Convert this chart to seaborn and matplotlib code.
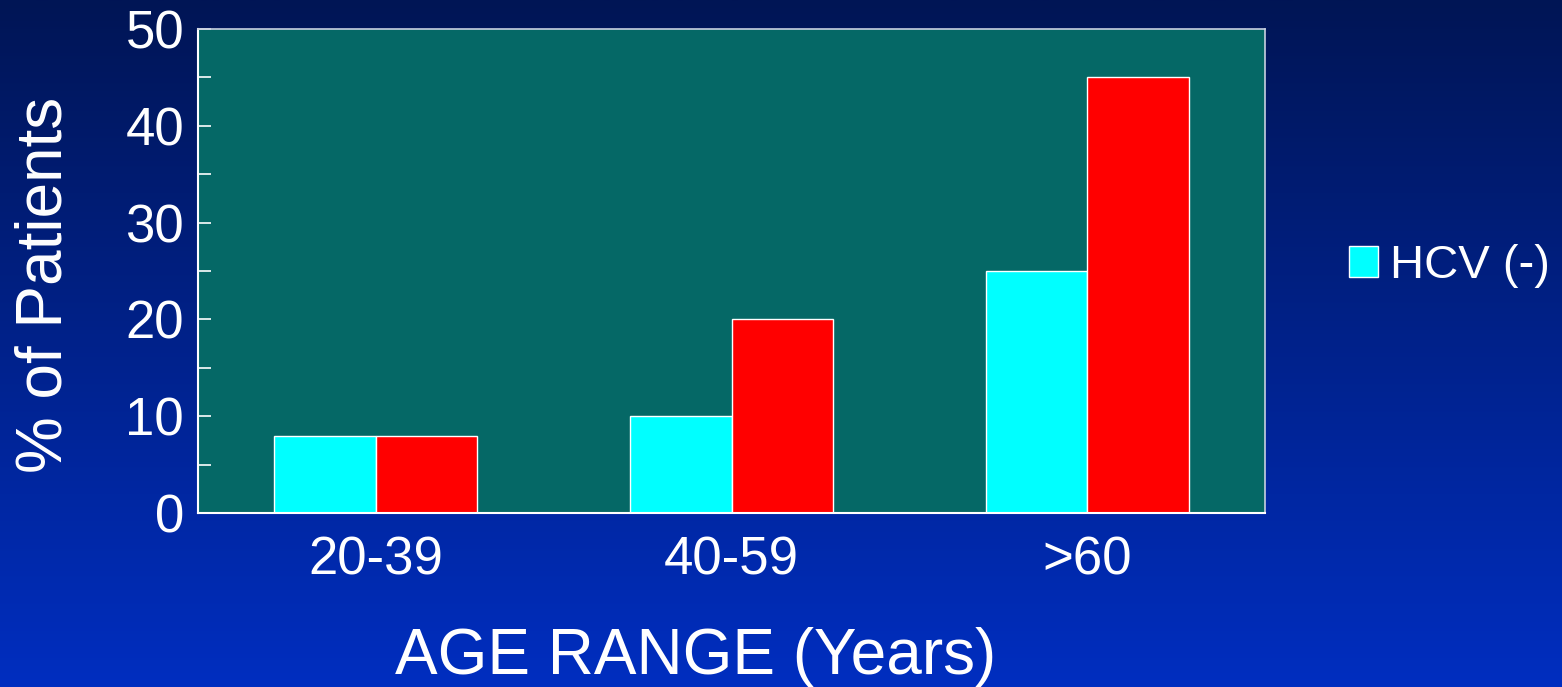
import matplotlib
matplotlib.use('Agg')
import matplotlib.pyplot as plt
import matplotlib.patches as mpatches
import numpy as np
import pandas as pd
import seaborn as sns

# Data
age_ranges = ['20-39', '40-59', '>60']
hcv_neg = [8, 10, 25]
hcv_pos = [8, 20, 45]
series = ['HCV (-)', 'HCV (+)']
colors = ['#00FFFF', '#FF0000']

df = pd.DataFrame({
    'age': age_ranges * 2,
    'pct': hcv_neg + hcv_pos,
    'group': [series[0]] * 3 + [series[1]] * 3,
})

sns.set_style('white')
plt.rcParams['font.family'] = ['Liberation Sans', 'DejaVu Sans']

fig = plt.figure(figsize=(15.62, 6.87), dpi=100)

# gradient background
bg = fig.add_axes([0, 0, 1, 1], zorder=-10)
grad = np.linspace(0, 1, 256).reshape(-1, 1)
top = np.array([0x00, 0x15, 0x55]) / 255
bot = np.array([0x00, 0x2e, 0xc0]) / 255
img = top + (bot - top) * grad[:, :, None]
bg.imshow(img, aspect='auto', extent=[0, 1, 0, 1], origin='upper')
bg.axis('off')

ax = fig.add_axes([198 / 1562, 1 - 513 / 687, 1067 / 1562, 484 / 687])
ax.set_facecolor('#056866')

sns.barplot(data=df, x='age', y='pct', hue='group', palette=colors,
            width=0.57, gap=0, edgecolor='white', linewidth=1,
            saturation=1, legend=False, ax=ax)

ax.set_ylim(0, 50)
ax.set_xlim(-0.5, 2.5)
ax.set_yticks(range(0, 51, 10))
ax.set_yticks(range(5, 50, 10), minor=True)
ax.tick_params(axis='y', which='both', direction='in', length=9, width=1.2,
               color='white', left=True, labelsize=38, labelcolor='white', pad=10)
ax.tick_params(axis='x', length=0, labelsize=38, labelcolor='white', pad=16)

for side in ['left', 'bottom']:
    ax.spines[side].set_color('white')
    ax.spines[side].set_linewidth(1.5)
for side in ['top', 'right']:
    ax.spines[side].set_color('#c8d0e0')
    ax.spines[side].set_linewidth(1.2)

ax.set_xlabel('AGE RANGE (Years)', fontsize=46, color='white', va='center')
ax.xaxis.set_label_coords((696 - 198) / 1067, (513 - 657) / 484)
ax.set_ylabel('% of Patients', fontsize=46, color='white', va='center')
ax.yaxis.set_label_coords((45 - 198) / 1067, (513 - 285) / 484)

handle = mpatches.Patch(facecolor=colors[0], edgecolor='white', label=series[0])
leg = fig.legend(handles=[handle], loc='center left',
                 bbox_to_anchor=(1349 / 1562, 1 - 266 / 687),
                 frameon=False, fontsize=34, labelcolor='white',
                 borderpad=0, borderaxespad=0,
                 handlelength=0.62, handleheight=0.62, handletextpad=0.25)

fig.savefig('out.png', dpi=100)
